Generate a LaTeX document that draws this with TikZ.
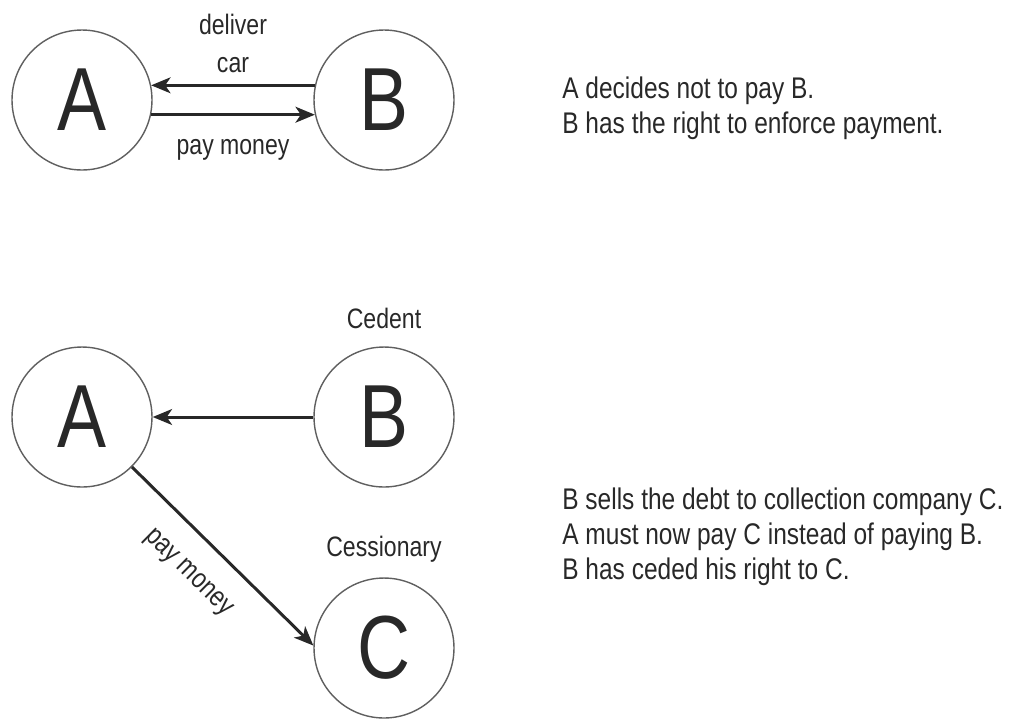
\documentclass[tikz,border=0pt]{standalone}
\usepackage{fontspec}
\setmainfont{Liberation Sans}[FakeStretch=0.82]
\usetikzlibrary{positioning, arrows.meta}
\definecolor{inkdark}{RGB}{40, 40, 40}
\definecolor{ringgray}{RGB}{95, 95, 95}
\tikzset{
    party/.style={circle, draw=ringgray, line width=0.8pt, minimum size=2.8cm, inner sep=0pt, text=inkdark, font=\fontsize{51}{51}\selectfont},
    flow/.style={draw=inkdark, line width=1.7pt, -{Stealth[length=11pt, width=9pt, inset=3pt]}},
    flowlabel/.style={text=inkdark, font=\fontsize{16}{21.5}\selectfont, inner sep=1pt},
    role/.style={text=inkdark, font=\fontsize{16}{18}\selectfont, inner sep=1pt},
    note/.style={text=inkdark, align=left, anchor=north west, inner sep=0pt, font=\fontsize{17}{20}\selectfont}
}

\begin{document}
\begin{tikzpicture}[x=0.02cm, y=-0.02cm]
    \useasboundingbox (0,0) rectangle (1016,718);

    % contract between A and B
    \node[party] (topA) at (82,100) {A};
    \node[party] (topB) at (384,100) {B};
    \draw[flow] (topB.168) -- (topA.12)
        node[flowlabel, midway, above=5.5pt, align=center] {deliver\\car};
    \draw[flow] (topA.-12) -- (topB.192)
        node[flowlabel, midway, below=12pt] {pay money};
    \node[note] (noteTop) at (562,76) {A decides not to pay B.\\B has the right to enforce payment.};

    % assignment of the claim to C
    \node[party] (botA) at (82,417) {A};
    \node[party] (botB) at (384,417) {B};
    \node[party] (botC) at (384,648) {C};
    \node[role, above=3mm of botB] (cedent) {Cedent};
    \node[role, above=2.5mm of botC] (cessionary) {Cessionary};
    \draw[flow] (botB) -- (botA);
    \draw[flow] (botA.-45) -- (botC.178)
        node[flowlabel, pos=0.45, below=13pt, sloped] {pay money};
    \node[note] (noteBottom) at (562,487) {B sells the debt to collection company C.\\A must now pay C instead of paying B.\\B has ceded his right to C.};
\end{tikzpicture}
\end{document}
